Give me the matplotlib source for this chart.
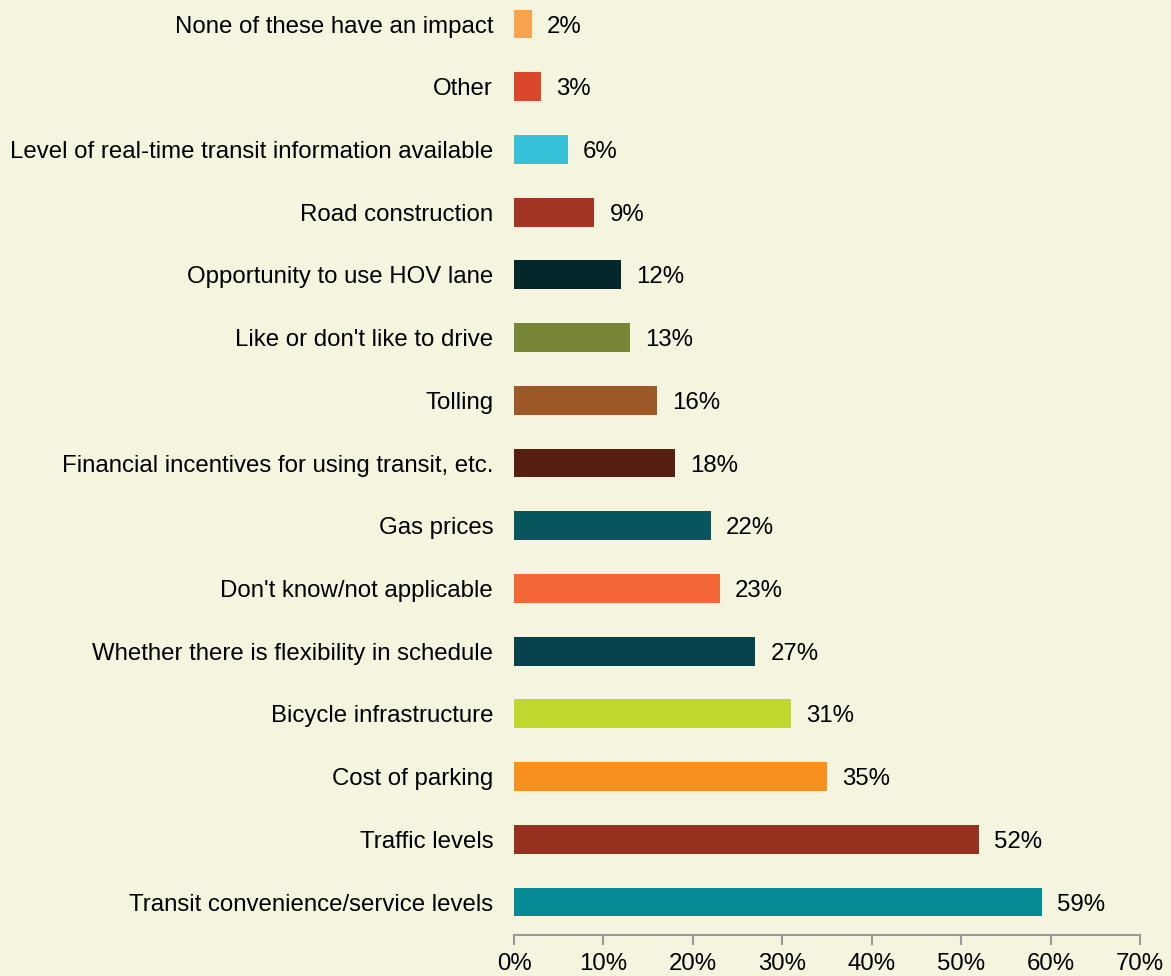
import matplotlib
matplotlib.use('Agg')
import matplotlib.pyplot as plt

# factors, bottom to top
factors = ['Transit convenience/service levels', 'Traffic levels', 'Cost of parking',
           'Bicycle infrastructure', 'Whether there is flexibility in schedule',
           "Don't know/not applicable", 'Gas prices',
           'Financial incentives for using transit, etc.', 'Tolling',
           "Like or don't like to drive", 'Opportunity to use HOV lane',
           'Road construction', 'Level of real-time transit information available',
           'Other', 'None of these have an impact']
shares = [59, 52, 35, 31, 27, 23, 22, 18, 16, 13, 12, 9, 6, 3, 2]
colors = ['#058B96', '#96301F', '#F7901E', '#C1D72E', '#05424B', '#F26735',
          '#07565D', '#561F11', '#9D5827', '#778536', '#04272C', '#A33524',
          '#36C1D9', '#D9472B', '#F9A44D']
ticks = [0, 10, 20, 30, 40, 50, 60, 70]

plt.rcParams['font.family'] = ['Liberation Sans', 'DejaVu Sans']
bg = '#F5F5DF'
fs = 17.3

fig = plt.figure(figsize=(11.71, 9.76), dpi=100, facecolor=bg)
ax = fig.add_axes([514 / 1171, 1 - 935 / 976, (1140 - 514) / 1171, 935 / 976])
ax.set_facecolor(bg)

ypos = list(range(len(factors)))
ax.barh(ypos, shares, height=0.46, color=colors)
for y, v in zip(ypos, shares):
    ax.text(v + 1.7, y, '%d%%' % v, va='center_baseline', ha='left', fontsize=fs)

ax.set_yticks(ypos)
ax.set_yticklabels(factors, fontsize=fs)
ax.tick_params(axis='y', length=0, pad=15)

ax.set_xticks(ticks)
ax.set_xticklabels(['%d%%' % t for t in ticks], fontsize=fs)
ax.tick_params(axis='x', length=7, width=1.5, color='#999999', pad=6)
ax.set_xlim(0, 70)
ax.set_ylim(-0.526, 14.383)

for side in ['top', 'right', 'left']:
    ax.spines[side].set_visible(False)
ax.spines['bottom'].set_color('#999999')
ax.spines['bottom'].set_linewidth(1.5)

fig.savefig('out.png', dpi=100, facecolor=bg)
